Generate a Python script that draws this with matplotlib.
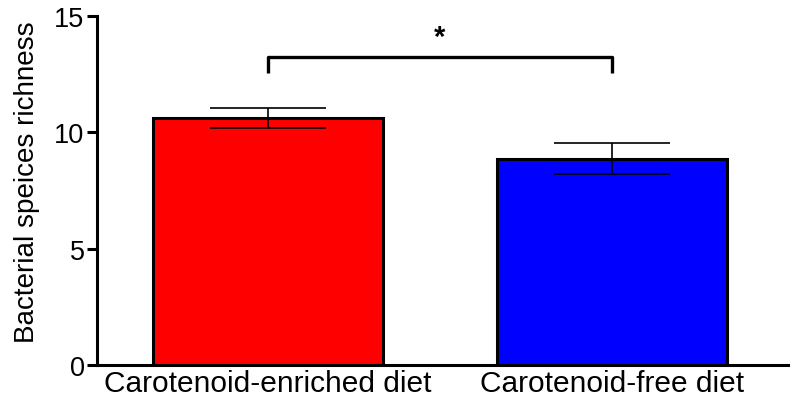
import matplotlib
matplotlib.use("Agg")
import matplotlib.pyplot as plt

categories = ["Carotenoid-enriched diet", "Carotenoid-free diet"]
means = [10.62, 8.87]
errors = [0.45, 0.66]
colors = ["#FF0000", "#0000FF"]
yticks = [0, 5, 10, 15]
bracket_y = 13.26
bracket_drop = 0.69
sig_label = "*"

plt.rcParams['font.family'] = ['Liberation Sans', 'DejaVu Sans']

fig = plt.figure(figsize=(7.92, 4.02), dpi=100)
ax = fig.add_axes([0.1225, 0.0903, 0.8725, 0.8667])

x = list(range(len(categories)))
ax.bar(x, means, width=0.669, color=colors, edgecolor="black", linewidth=2.2, zorder=2)
ax.errorbar(x, means, yerr=errors, fmt="none", ecolor="black", elinewidth=1.2,
            capsize=41.5, capthick=1.2, zorder=3)

# significance bracket
ax.plot([x[0], x[0], x[1], x[1]],
        [bracket_y - bracket_drop, bracket_y, bracket_y, bracket_y - bracket_drop],
        color="black", lw=2.4, solid_capstyle="butt", zorder=3)
ax.text((x[0] + x[1]) / 2, bracket_y + 0.85, sig_label, ha="center", va="center",
        fontsize=21, fontweight="bold")

ax.set_xlim(-0.497, 1.512)
ax.set_ylim(0, 15)
ax.set_yticks(yticks)
ax.set_xticks(x)
ax.set_xticklabels(categories, fontsize=21.5)
ax.tick_params(axis="x", length=0, pad=3)
ax.tick_params(axis="y", length=7, width=2.2, labelsize=19.5, pad=2)
ax.set_ylabel("Bacterial speices richness", fontsize=20.1, labelpad=10)
ax.yaxis.set_label_coords(-0.083, 0.526)

for s in ["top", "right"]:
    ax.spines[s].set_visible(False)
for s in ["left", "bottom"]:
    ax.spines[s].set_linewidth(2.2)

fig.savefig("out.png", dpi=100)
